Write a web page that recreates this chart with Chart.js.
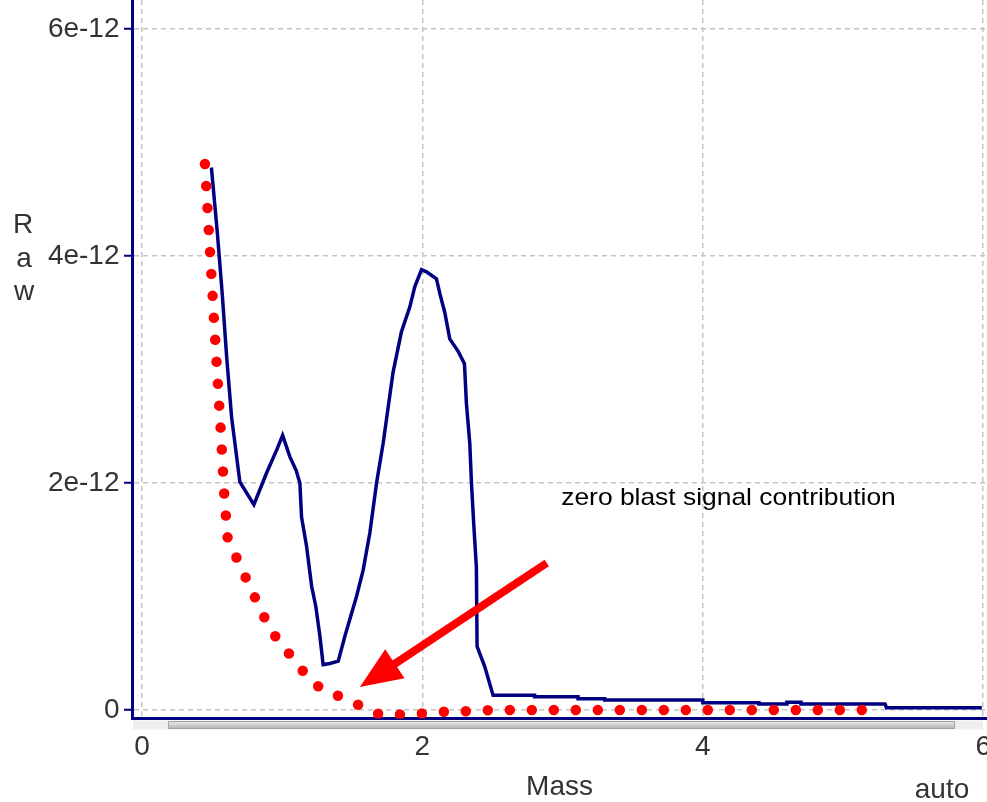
<!DOCTYPE html>
<html>
<head>
<meta charset="utf-8">
<script src="https://cdn.jsdelivr.net/npm/chart.js@4.4.0/dist/chart.umd.min.js"></script>
<style>
  html, body { margin: 0; padding: 0; background: #fff; }
  canvas { display: block; }
</style>
</head>
<body>
<canvas id="myChart" width="987" height="802"></canvas>
<script>
// Measured trace (blue line): mass and raw signal
const massTrace = [0.495, 0.537, 0.572, 0.604, 0.639, 0.698, 0.798, 0.889, 0.960, 1.003,
  1.055, 1.100, 1.126, 1.138, 1.174, 1.210, 1.240, 1.269, 1.292, 1.340,
  1.400, 1.447, 1.530, 1.577, 1.625, 1.673, 1.720, 1.790, 1.850, 1.910,
  1.946, 1.994, 2.029, 2.100, 2.124, 2.160, 2.195, 2.255, 2.300, 2.314,
  2.338, 2.350, 2.366, 2.385, 2.390, 2.445, 2.504, 2.800, 2.800, 3.110,
  3.110, 3.300, 3.300, 4.000, 4.000, 4.400, 4.400, 4.600, 4.600, 4.700,
  4.700, 5.300, 5.310, 5.990];
const rawTrace = [4.78e-12, 4.21e-12, 3.67e-12, 3.11e-12, 2.58e-12, 2.01e-12, 1.81e-12, 2.09e-12, 2.29e-12, 2.42e-12,
  2.23e-12, 2.11e-12, 2.00e-12, 1.70e-12, 1.44e-12, 1.09e-12, 0.91e-12, 0.65e-12, 0.40e-12, 0.41e-12,
  0.43e-12, 0.65e-12, 1.00e-12, 1.23e-12, 1.56e-12, 2.00e-12, 2.35e-12, 2.97e-12, 3.33e-12, 3.55e-12,
  3.73e-12, 3.88e-12, 3.86e-12, 3.80e-12, 3.67e-12, 3.50e-12, 3.27e-12, 3.16e-12, 3.05e-12, 2.70e-12,
  2.35e-12, 2.00e-12, 1.64e-12, 1.26e-12, 0.56e-12, 0.38e-12, 0.13e-12, 0.13e-12, 0.117e-12, 0.117e-12,
  0.10e-12, 0.10e-12, 0.088e-12, 0.088e-12, 0.064e-12, 0.064e-12, 0.053e-12, 0.053e-12, 0.068e-12, 0.068e-12,
  0.053e-12, 0.053e-12, 0.02e-12, 0.02e-12];

// Blast curve (red dots)
const massBlast = [0.449, 0.485, 0.513, 0.542, 0.561, 0.587, 0.611, 0.679, 0.746, 0.810,
  0.879, 0.960, 1.060, 1.157, 1.264, 1.406, 1.554, 1.696, 1.851, 2.000,
  2.165, 2.320, 2.500, 5.165];
const rawBlast = [4.81e-12, 4.04e-12, 3.45e-12, 2.86e-12, 2.48e-12, 1.89e-12, 1.51e-12, 1.33e-12, 1.15e-12, 0.98e-12,
  0.80e-12, 0.63e-12, 0.48e-12, 0.33e-12, 0.20e-12, 0.12e-12, 0.04e-12, -0.04e-12, -0.04e-12, -0.03e-12,
  -0.015e-12, -0.01e-12, 0, 0];

// Ticks
const massTicks = [0, 2, 4, 6];
const massTickLabels = ['0', '2', '4', '6'];
const rawTicks = [0, 2e-12, 4e-12, 6e-12];
const rawTickLabels = ['0', '2e-12', '4e-12', '6e-12'];

// Annotation
const noteText = 'zero blast signal contribution';
const notePos = [2.99, 1.806e-12];
const arrowFrom = [2.887, 1.295e-12];
const arrowTo = [1.554, 0.203e-12];

const FONT = '"Liberation Sans", Arial, sans-serif';
Chart.defaults.font.family = FONT;
Chart.defaults.color = '#333';

const toPoints = (xs, ys) => xs.map((v, i) => ({ x: v, y: ys[i] }));

// extra drawing: scrollbar, axis letters, note and arrow
const overlay = {
  id: 'overlay',
  afterDraw(chart) {
    const { ctx, scales: { x, y } } = chart;
    ctx.save();

    // scrollbar strip under the x axis
    ctx.fillStyle = '#efefef';
    ctx.fillRect(133, 720.5, 850, 9);
    const g = ctx.createLinearGradient(0, 721, 0, 729);
    g.addColorStop(0, '#ececec');
    g.addColorStop(1, '#b2b2b2');
    ctx.fillStyle = g;
    ctx.fillRect(168, 721, 787, 8);
    ctx.strokeStyle = '#a6a6a6';
    ctx.lineWidth = 1;
    ctx.strokeRect(168.5, 721.5, 786, 7);

    // y axis title, one letter per line
    ctx.fillStyle = '#333';
    ctx.font = '28px ' + FONT;
    ctx.textAlign = 'center';
    ctx.textBaseline = 'alphabetic';
    ctx.fillText('R', 23, 233);
    ctx.fillText('a', 24, 267);
    ctx.fillText('w', 24, 300);
    ctx.fillText('auto', 942, 798);

    // note
    ctx.fillStyle = '#000';
    ctx.font = '24px ' + FONT;
    ctx.textAlign = 'left';
    ctx.translate(x.getPixelForValue(notePos[0]), y.getPixelForValue(notePos[1]));
    ctx.scale(1.1, 1);
    ctx.fillText(noteText, 0, 0);
    ctx.setTransform(1, 0, 0, 1, 0, 0);

    // arrow
    const x0 = x.getPixelForValue(arrowFrom[0]), y0 = y.getPixelForValue(arrowFrom[1]);
    const x1 = x.getPixelForValue(arrowTo[0]), y1 = y.getPixelForValue(arrowTo[1]);
    const ang = Math.atan2(y1 - y0, x1 - x0);
    const headLen = 42, headHalf = 17.5;
    const bx = x1 - headLen * Math.cos(ang), by = y1 - headLen * Math.sin(ang);
    ctx.strokeStyle = '#ff0000';
    ctx.lineWidth = 8;
    ctx.lineCap = 'butt';
    ctx.beginPath();
    ctx.moveTo(x0, y0);
    ctx.lineTo(bx + 2 * Math.cos(ang), by + 2 * Math.sin(ang));
    ctx.stroke();
    ctx.fillStyle = '#ff0000';
    ctx.beginPath();
    ctx.moveTo(x1, y1);
    ctx.lineTo(bx + headHalf * Math.sin(ang), by - headHalf * Math.cos(ang));
    ctx.lineTo(bx - headHalf * Math.sin(ang), by + headHalf * Math.cos(ang));
    ctx.closePath();
    ctx.fill();

    ctx.restore();
  }
};

const data = {
  datasets: [{
    label: 'blast',
    data: toPoints(massBlast, rawBlast),
    borderColor: '#ff0000',
    borderWidth: 10.5,
    borderDash: [0, 22],
    borderCapStyle: 'round',
    pointRadius: 0,
    tension: 0
  }, {
    label: 'raw',
    data: toPoints(massTrace, rawTrace),
    borderColor: '#000080',
    borderWidth: 3.5,
    pointRadius: 0,
    tension: 0
  }]
};

const gridStyle = { color: '#c4c4c4', lineWidth: 1.5 };

const config = {
  type: 'line',
  data: data,
  options: {
    responsive: false,
    animation: false,
    events: [],
    layout: { padding: 0 },
    plugins: { legend: { display: false }, tooltip: { enabled: false } },
    scales: {
      x: {
        type: 'linear',
        min: -0.0713,
        max: 6.027,
        afterBuildTicks: (s) => { s.ticks = massTicks.map(v => ({ value: v })); },
        afterFit: (s) => { s.height = 83.5; s.paddingLeft = 0; s.paddingRight = 0; },
        ticks: {
          includeBounds: false,
          autoSkip: false,
          maxRotation: 0,
          padding: 15,
          font: { size: 28, lineHeight: 1 },
          color: '#333',
          callback: (v, i) => massTickLabels[i]
        },
        grid: Object.assign({ drawTicks: false }, gridStyle),
        border: { display: true, color: '#000080', width: 3, dash: [5, 4] },
        title: {
          display: true,
          text: 'Mass',
          color: '#333',
          font: { size: 28, lineHeight: 1 },
          padding: { top: 0, bottom: 1 }
        }
      },
      y: {
        type: 'linear',
        min: -0.0749e-12,
        max: 6.2555e-12,
        afterBuildTicks: (s) => { s.ticks = rawTicks.map(v => ({ value: v })); },
        afterFit: (s) => { s.width = 132; s.paddingTop = 0; s.paddingBottom = 0; },
        ticks: {
          includeBounds: false,
          autoSkip: false,
          padding: 4.5,
          font: { size: 28, lineHeight: 1 },
          color: '#333',
          callback: (v, i) => rawTickLabels[i]
        },
        grid: Object.assign({
          drawTicks: true,
          tickLength: 8,
          tickColor: '#000080',
          tickWidth: 2,
          tickBorderDash: [10, 0]
        }, gridStyle),
        border: { display: true, color: '#000080', width: 3, dash: [5, 4] }
      }
    }
  },
  plugins: [overlay]
};

var myChart = new Chart(document.getElementById('myChart'), config);
</script>
</body>
</html>
